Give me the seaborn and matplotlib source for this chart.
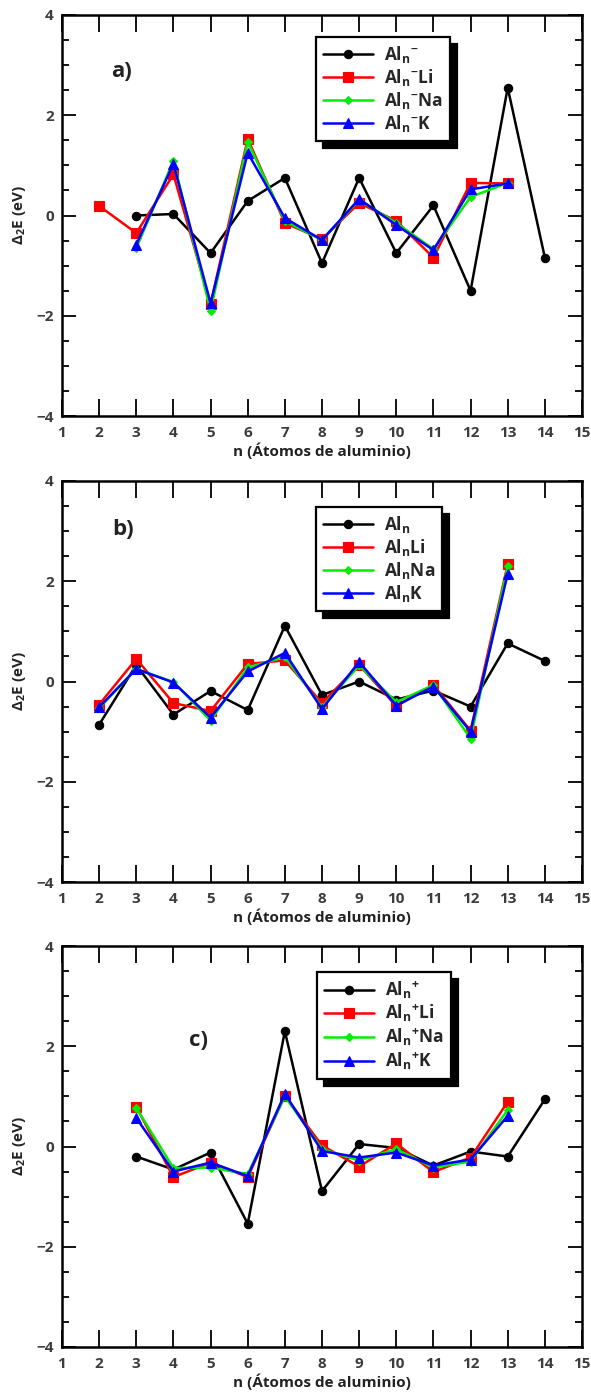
import matplotlib
matplotlib.use("Agg")
import matplotlib.pyplot as plt
from matplotlib.ticker import MultipleLocator
import numpy as np
import pandas as pd
import seaborn as sns

sns.set_theme(style="white")
FONT = "Open Sans"
plt.rcParams["font.family"] = [FONT, "DejaVu Sans"]
plt.rcParams["font.weight"] = "bold"
plt.rcParams["mathtext.default"] = "regular"

# ---- panel a: anionic clusters ----
a_x_bare = [3, 4, 5, 6, 7, 8, 9, 10, 11, 12, 13, 14]
a_bare = [0.0, 0.03, -0.75, 0.29, 0.75, -0.95, 0.75, -0.75, 0.20, -1.50, 2.55, -0.84]
a_x_li = [2, 3, 4, 5, 6, 7, 8, 9, 10, 11, 12, 13]
a_li = [0.19, -0.35, 0.82, -1.77, 1.53, -0.15, -0.47, 0.25, -0.11, -0.84, 0.65, 0.64]
a_x_alk = [3, 4, 5, 6, 7, 8, 9, 10, 11, 12, 13]
a_na = [-0.65, 1.09, -1.90, 1.47, -0.11, -0.49, 0.31, -0.15, -0.67, 0.37, 0.65]
a_k = [-0.58, 1.03, -1.75, 1.25, -0.05, -0.49, 0.33, -0.19, -0.69, 0.52, 0.64]

# ---- panel b: neutral clusters ----
b_x_bare = [2, 3, 4, 5, 6, 7, 8, 9, 10, 11, 12, 13, 14]
b_bare = [-0.86, 0.33, -0.66, -0.19, -0.57, 1.11, -0.27, 0.0, -0.36, -0.18, -0.50, 0.76, 0.41]
b_x_alk = [2, 3, 4, 5, 6, 7, 8, 9, 10, 11, 12, 13]
b_li = [-0.46, 0.45, -0.43, -0.59, 0.35, 0.42, -0.43, 0.33, -0.49, -0.07, -0.98, 2.34]
b_na = [-0.53, 0.25, -0.01, -0.78, 0.28, 0.49, -0.51, 0.32, -0.41, -0.07, -1.14, 2.30]
b_k = [-0.51, 0.25, -0.02, -0.72, 0.20, 0.57, -0.55, 0.39, -0.48, -0.10, -1.00, 2.15]

# ---- panel c: cationic clusters ----
c_x_bare = [3, 4, 5, 6, 7, 8, 9, 10, 11, 12, 13, 14]
c_bare = [-0.20, -0.46, -0.12, -1.54, 2.30, -0.89, 0.05, -0.03, -0.38, -0.10, -0.20, 0.94]
c_x_alk = [3, 4, 5, 6, 7, 8, 9, 10, 11, 12, 13]
c_li = [0.79, -0.61, -0.32, -0.61, 1.01, 0.02, -0.40, 0.06, -0.51, -0.22, 0.89]
c_na = [0.77, -0.43, -0.42, -0.55, 1.00, -0.05, -0.28, -0.05, -0.42, -0.30, 0.73]
c_k = [0.57, -0.50, -0.32, -0.59, 1.05, -0.09, -0.22, -0.12, -0.38, -0.26, 0.61]

panel_tags = ["a)", "b)", "c)"]
charge_tags = ["$^{-}$", "", "$^{+}$"]
species = ["", "Li", "Na", "K"]

colors = ["black", "#ff0000", "#00ee00", "#0000ff"]
markers = ["o", "s", "D", "^"]
msizes = [6.0, 7.0, 4.0, 6.5]

panels = [
    [(a_x_bare, a_bare), (a_x_li, a_li), (a_x_alk, a_na), (a_x_alk, a_k)],
    [(b_x_bare, b_bare), (b_x_alk, b_li), (b_x_alk, b_na), (b_x_alk, b_k)],
    [(c_x_bare, c_bare), (c_x_alk, c_li), (c_x_alk, c_na), (c_x_alk, c_k)],
]

W, H = 591, 1400
fig = plt.figure(figsize=(W / 100, H / 100), dpi=100)
fig.patch.set_facecolor("white")

ax_left, ax_width, ax_height = 62 / W, 520 / W, 401 / H
ax_tops = [15, 481, 946]
tag_pos = [(0.115, 0.86), (0.118, 0.878), (0.262, 0.765)]
legend_anchor = [(316, 37), (316, 507), (317, 972)]

tick_grey = "#3c3c3c"

for i, series in enumerate(panels):
    top = ax_tops[i]
    ax = fig.add_axes([ax_left, 1 - (top + 401) / H, ax_width, ax_height])
    ax.set_facecolor("white")
    for j, (xs, ys) in enumerate(series):
        label = "Al$_n$" + charge_tags[i] + species[j]
        df = pd.DataFrame({"n": xs, "dE": ys})
        sns.lineplot(
            data=df, x="n", y="dE", ax=ax, color=colors[j], marker=markers[j],
            markersize=msizes[j], markeredgecolor=colors[j], markeredgewidth=0.8,
            linewidth=1.8, label=label, zorder=3 + j,
        )
    ax.set_xlim(1, 15)
    ax.set_ylim(-4, 4)
    ax.xaxis.set_major_locator(MultipleLocator(1))
    ax.yaxis.set_major_locator(MultipleLocator(2))
    ax.yaxis.set_minor_locator(MultipleLocator(0.5))
    ax.tick_params(axis="x", which="major", direction="in", top=True, bottom=True,
                   length=12, width=1.3, pad=7, labelsize=11, labelcolor=tick_grey,
                   color="black")
    ax.tick_params(axis="y", which="major", direction="in", left=True, right=True,
                   length=10, width=1.3, pad=6, labelsize=11, labelcolor=tick_grey,
                   color="black")
    ax.tick_params(axis="y", which="minor", direction="in", left=True, right=True,
                   length=5, width=1.3, color="black")
    for lab in ax.get_xticklabels() + ax.get_yticklabels():
        lab.set_fontweight("bold")
    ax.set_yticks([-4, -2, 0, 2, 4])
    ax.set_yticklabels(["\u22124", "\u22122", "0", "2", "4"])
    for sp in ax.spines.values():
        sp.set_visible(True)
        sp.set_color("black")
        sp.set_linewidth(1.8)
    ax.set_xlabel("n (Átomos de aluminio)", fontsize=11, fontweight="bold",
                  color="#222222", labelpad=2)
    ax.set_ylabel("Δ$_2$E (eV)", fontsize=11, fontweight="bold",
                  color="#222222", labelpad=6)
    ax.text(tag_pos[i][0], tag_pos[i][1], panel_tags[i], transform=ax.transAxes,
            fontsize=16, fontweight="bold", color="#222222", ha="center", va="center")

    lx, ly = legend_anchor[i]
    leg = ax.legend(
        loc="upper left",
        bbox_to_anchor=(lx / W, 1 - ly / H),
        bbox_transform=fig.transFigure,
        frameon=True, fancybox=False,
        shadow={"ox": 5, "oy": -5, "color": "black", "alpha": 1.0},
        prop={"family": FONT, "weight": "bold", "size": 12.5},
        handlelength=2.9, handletextpad=0.6, borderpad=0.4,
        labelspacing=0.12, borderaxespad=0,
    )
    frame = leg.get_frame()
    frame.set_edgecolor("black")
    frame.set_linewidth(1.6)
    frame.set_facecolor("white")
    frame.set_alpha(1.0)

fig.savefig("out.png", dpi=100, facecolor="white")
